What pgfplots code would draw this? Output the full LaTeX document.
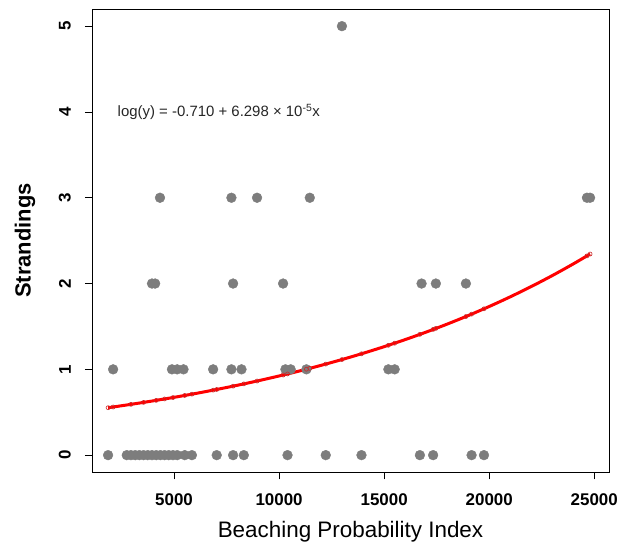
\documentclass[border=0pt]{standalone}
\usepackage{fontspec}
\setmainfont{Liberation Sans}
\usepackage{pgfplots}
\pgfplotsset{compat=1.18}
\definecolor{ptgray}{RGB}{125,125,125}
\definecolor{fitred}{RGB}{255,0,0}
\definecolor{markred}{RGB}{200,40,40}
\begin{document}
\begin{tikzpicture}
\useasboundingbox (-92bp,-74bp) rectangle (539bp,472.3bp);
\begin{axis}[
  at={(0,0)}, anchor=south west,
  scale only axis, width=517bp, height=463.3bp,
  xmin=1095, xmax=25700, ymin=-0.2, ymax=5.2,
  xtick={5000,10000,15000,20000,25000},
  ytick={0,1,2,3,4,5},
  tick pos=left, tick align=outside,
  major tick length=7bp,
  axis line style={line width=0.8bp},
  every tick/.style={black, line width=0.8bp},
  scaled x ticks=false,
  /pgf/number format/assume math mode=true,
  /pgf/number format/1000 sep={},
  xticklabel style={font=\fontsize{17}{20}\selectfont\bfseries, inner sep=14bp},
  yticklabel style={font=\fontsize{17}{20}\selectfont\bfseries, rotate=90, anchor=south, inner sep=14bp},
  xlabel={Beaching Probability Index},
  ylabel={Strandings},
  xlabel style={font=\fontsize{22.5}{26}\selectfont, at={(axis description cs:0.5,-0.1274)}, anchor=center},
  ylabel style={font=\fontsize{22}{26}\selectfont\bfseries, at={(axis description cs:-0.1296,0.5)}, anchor=center, rotate=0},
  clip=false,
]
% observed strandings
\addplot[only marks, mark=*, mark size=4.9bp, mark options={draw=ptgray, fill=ptgray}] coordinates {
(1860,0) (2750,0) (2950,0) (3150,0) (3350,0) (3550,0) (3750,0) (3950,0) (4150,0) (4350,0) (4550,0) (4750,0) (4950,0) (5150,0) (5510,0) (5850,0) (7030,0) (7810,0) (8320,0) (10400,0) (12220,0) (13920,0) (16700,0) (17330,0) (19160,0) (19750,0)
(2100,1) (4900,1) (5150,1) (5450,1) (6860,1) (7730,1) (8210,1) (10300,1) (10550,1) (11300,1) (15200,1) (15500,1)
(3950,2) (4100,2) (7810,2) (10190,2) (16780,2) (17460,2) (18890,2)
(4330,3) (7730,3) (8950,3) (11460,3) (24650,3) (24800,3)
(12990,5)
};
% fitted curve
\addplot[fitred, line width=3bp, smooth] coordinates {
(1860,0.5527) (2900,0.5902) (4000,0.6325) (5000,0.6736) (6000,0.7174) (7000,0.7640) (8000,0.8137) (9000,0.8666) (10000,0.9229) (11000,0.9829) (12000,1.0468) (13000,1.1149) (14000,1.1873) (15000,1.2645) (16000,1.3467) (17000,1.4343) (18000,1.5275) (19000,1.6268) (20000,1.7326) (21000,1.8452) (22000,1.9651) (23000,2.0928) (24000,2.2288) (24800,2.3440)
};
\addplot[only marks, mark=o, mark size=2bp, mark options={draw=markred, line width=0.6bp}] coordinates {
(1860,0.5527) (2100,0.5612) (2950,0.5921) (3550,0.6147) (4150,0.6385) (4550,0.6548) (4950,0.6715) (5510,0.6958) (5850,0.7108) (6860,0.7573) (7030,0.7654) (7810,0.8040) (8320,0.8303) (8950,0.8639) (10190,0.9340) (10400,0.9464) (11300,1.0016) (11460,1.0117) (12220,1.0614) (12990,1.1142) (13920,1.1813) (15200,1.2805) (15500,1.3049) (16700,1.4082) (17330,1.4655) (17460,1.4776) (18890,1.6156) (19160,1.6433) (19750,1.7054) (24650,2.3220) (24800,2.3440)
};
\node[anchor=west, font=\fontsize{15}{18}\selectfont, text=black!85] at (axis cs:2150,4) {log(y) = -0.710 + 6.298 × 10\textsuperscript{-5}x};
\end{axis}
\end{tikzpicture}
\end{document}
